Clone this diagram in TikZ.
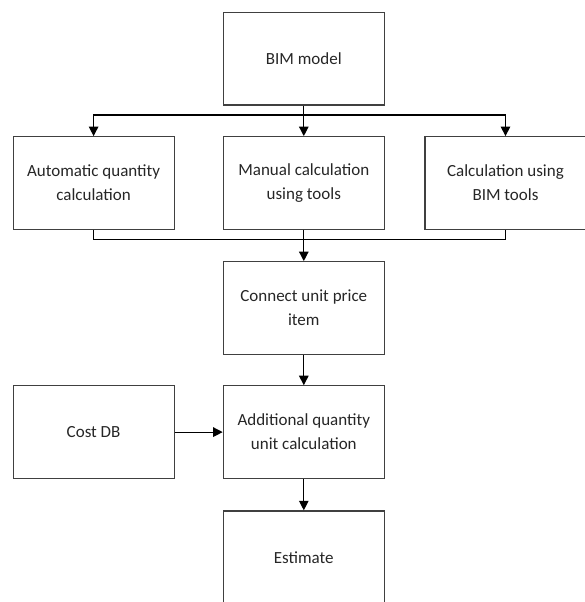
\documentclass[tikz,border=0pt]{standalone}
\usepackage{fontspec}
\setmainfont{Carlito}
\usetikzlibrary{arrows.meta}
\begin{document}
\begin{tikzpicture}[x=1pt,y=-1pt,
  box/.style={draw=black!75,line width=1.2pt,rectangle,minimum width=161pt,minimum height=92.6pt,inner sep=0pt,align=center,text=black!85,font=\fontsize{17}{24}\selectfont},
  conn/.style={draw=black,line width=1.2pt},
  arr/.style={conn,-{Triangle[length=9.5pt,width=9.5pt]}}]
\useasboundingbox (0,0) rectangle (585,602);
\clip (0,0) rectangle (585,602);
\node[box] (bim) at (303.8,58.7) {BIM model};
\node[box] (auto) at (93.6,183) {Automatic quantity\\calculation};
\node[box] (man) at (303.8,183) {Manual calculation\\using tools};
\node[box] (calc) at (505.5,183) {Calculation using\\BIM tools};
\node[box] (conn) at (303.8,308) {Connect unit price\\item};
\node[box] (add) at (303.8,432.1) {Additional quantity\\unit calculation};
\node[box] (cost) at (93.6,432.1) {Cost DB};
\node[box] (est) at (303.8,557.2) {Estimate};
\coordinate (split) at (303.8,115);
\coordinate (merge) at (303.8,239.3);
\draw[arr] (bim) -- (man);
\draw[arr] (split) -| (auto);
\draw[arr] (split) -| (calc);
\draw[conn] (auto) |- (merge) -| (calc);
\draw[arr] (man) -- (conn);
\draw[arr] (conn) -- (add);
\draw[arr] (cost) -- (add);
\draw[arr] (add) -- (est);
\end{tikzpicture}
\end{document}
